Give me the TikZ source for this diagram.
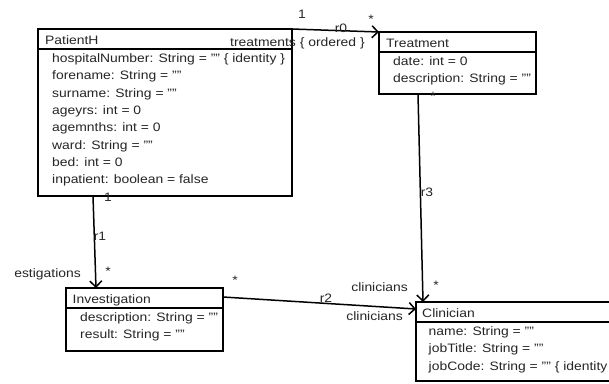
\documentclass[tikz,border=0pt]{standalone}
\usepackage{fontspec}
\setmainfont{Liberation Sans}[FakeStretch=1.14]
\usetikzlibrary{arrows.meta,calc}
\begin{document}
\begin{tikzpicture}[x=1pt,y=-1pt,
  cls/.style={draw, line width=1.8pt, inner sep=0pt, outer sep=0pt, anchor=north west},
  sepline/.style={line width=1.6pt},
  txt/.style={anchor=base west, inner sep=0pt, font=\fontsize{12.2}{14}\selectfont, text=black!85},
  lbl/.style={anchor=base, inner sep=0pt, font=\fontsize{12.2}{14}\selectfont, text=black!85},
  rlbl/.style={anchor=base east, inner sep=0pt, font=\fontsize{12.2}{14}\selectfont, text=black!85},
  assoc/.style={line width=1.5pt, -{Straight Barb[length=6pt,width=12pt,line width=1.5pt]}}]
\clip (0,0) rectangle (609,383);
\fill[white] (0,0) rectangle (609,383);
% class boxes
\node[cls, minimum width=254pt, minimum height=167pt] (P) at (38,29) {};
\node[cls, minimum width=157pt, minimum height=62pt] (T) at (379,32) {};
\node[cls, minimum width=157pt, minimum height=63pt] (I) at (66,288) {};
\node[cls, minimum width=250pt, minimum height=79pt] (C) at (416,302) {};
\draw[sepline] ($(P.north west)+(0,20)$) -- ($(P.north east)+(0,20)$);
\draw[sepline] ($(T.north west)+(0,20)$) -- ($(T.north east)+(0,20)$);
\draw[sepline] ($(I.north west)+(0,20)$) -- ($(I.north east)+(0,20)$);
\draw[sepline] ($(C.north west)+(0,20)$) -- ($(C.north east)+(0,20)$);
% connector end points
\coordinate (r1s) at ($(P.south west)+(55,0)$);
\coordinate (r1e) at ($(I.north west)+(30,0)$);
\coordinate (r2s) at ($(I.north east)+(0,9)$);
\coordinate (r2e) at ($(C.north west)+(0,7)$);
\coordinate (r3s) at ($(T.south west)+(39,0)$);
\coordinate (r3e) at ($(C.north west)+(7,0)$);
\draw[assoc] (P.north east) -- (T.north west);
\draw[assoc] (r1s) -- (r1e);
\draw[assoc] (r2s) -- (r2e);
\draw[assoc] (r3s) -- (r3e);
% PatientH
\node[txt] (Pn) at (45,44.5) {PatientH};
\node[txt] (P1) at (52,62.5) {hospitalNumber: String = "" \{ identity \}};
\node[txt] (P2) at (52,79.8) {forename: String = ""};
\node[txt] (P3) at (52,97.1) {surname: String = ""};
\node[txt] (P4) at (52,114.4) {ageyrs: int = 0};
\node[txt] (P5) at (52,131.7) {agemnths: int = 0};
\node[txt] (P6) at (52,149) {ward: String = ""};
\node[txt] (P7) at (52,166.3) {bed: int = 0};
\node[txt] (P8) at (52,183.6) {inpatient: boolean = false};
% Treatment
\node[txt] (Tn) at (386,47.5) {Treatment};
\node[txt] (T1) at (393,65.5) {date: int = 0};
\node[txt] (T2) at (393,82.8) {description: String = ""};
% Investigation
\node[txt] (In) at (72.5,303.5) {Investigation};
\node[txt] (I1) at (80,321.5) {description: String = ""};
\node[txt] (I2) at (80,338.8) {result: String = ""};
% Clinician
\node[txt] (Cn) at (422,317.5) {Clinician};
\node[txt] (C1) at (428.5,335.5) {name: String = ""};
\node[txt] (C2) at (428.5,352.8) {jobTitle: String = ""};
\node[txt] (C3) at (428.5,370) {jobCode: String = "" \{ identity};
% r0 labels
\node[lbl] (l01) at (302,18) {1};
\node[lbl] (l0s) at (371,23) {*};
\node[lbl] (l0n) at (341,32) {r0};
\node[txt] (l0r) at (230,46) {treatments \{ ordered \}};
% r1 labels
\node[lbl] (l11) at (108,201) {1};
\node[lbl] (l1n) at (100,240) {r1};
\node[lbl] (l1s) at (108,275) {*};
\node[rlbl] (l1r) at (81,277) {estigations};
% r2 labels
\node[lbl] (l2s) at (235,284) {*};
\node[lbl] (l2n) at (326,302) {r2};
\node[rlbl] (l2r) at (403,320) {clinicians};
% r3 labels
\node[lbl] (l3s1) at (433,100) {*};
\node[lbl] (l3n) at (427,196) {r3};
\node[lbl] (l3s2) at (436,289) {*};
\node[rlbl] (l3r) at (408,291) {clinicians};
\end{tikzpicture}
\end{document}
